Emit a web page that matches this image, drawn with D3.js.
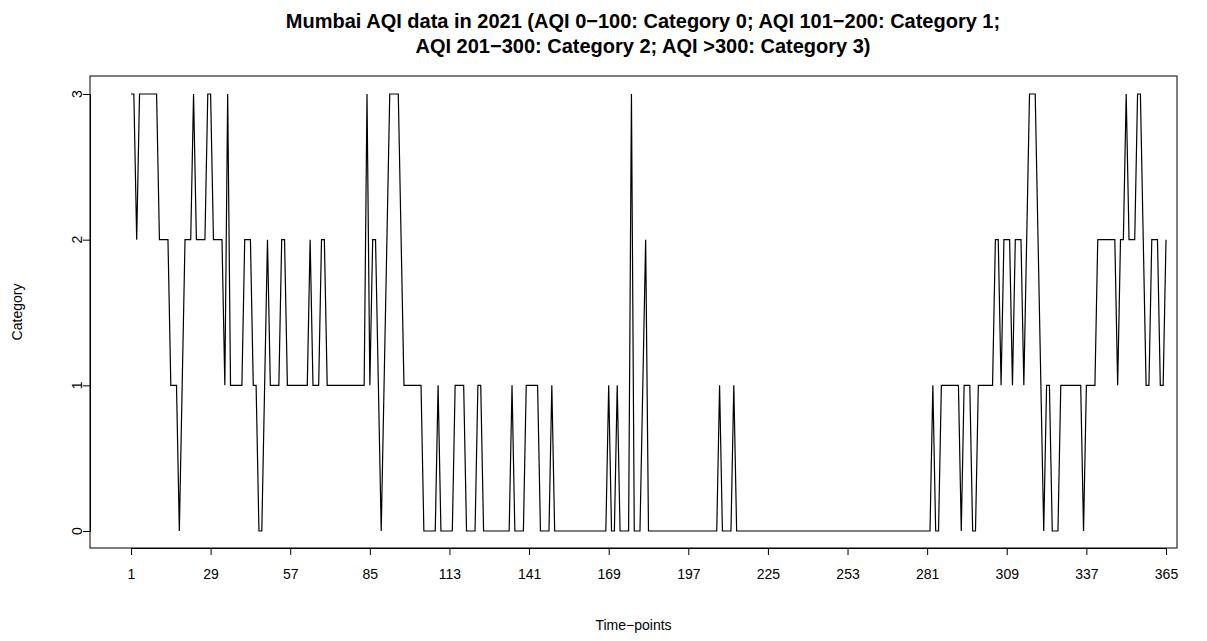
<!DOCTYPE html>
<html>
<head>
<meta charset="utf-8">
<script src="https://cdn.jsdelivr.net/npm/d3@7"></script>
<style>
  body { margin: 0; background: #fff; }
  svg text { font-family: "Liberation Sans", Arial, Helvetica, sans-serif; fill: #000; }
</style>
</head>
<body>
<div class="chart"></div>
<script>
// daily AQI category, day 1 .. 365
let category = [
  3,3,2,3,3,3,3,3,3,3,
  2,2,2,2,1,1,1,0,1,2,
  2,2,3,2,2,2,2,3,3,2,
  2,2,2,1,3,1,1,1,1,1,
  2,2,2,1,1,0,0,1,2,1,
  1,1,1,2,2,1,1,1,1,1,
  1,1,1,2,1,1,1,2,2,1,
  1,1,1,1,1,1,1,1,1,1,
  1,1,1,3,1,2,2,1,0,1,
  2,3,3,3,3,2,1,1,1,1,
  1,1,1,0,0,0,0,0,1,0,
  0,0,0,0,1,1,1,1,0,0,
  0,0,1,1,0,0,0,0,0,0,
  0,0,0,0,1,0,0,0,0,1,
  1,1,1,1,0,0,0,0,1,0,
  0,0,0,0,0,0,0,0,0,0,
  0,0,0,0,0,0,0,0,1,0,
  0,1,0,0,0,0,3,0,0,0,
  1,2,0,0,0,0,0,0,0,0,
  0,0,0,0,0,0,0,0,0,0,
  0,0,0,0,0,0,0,1,0,0,
  0,0,1,0,0,0,0,0,0,0,
  0,0,0,0,0,0,0,0,0,0,
  0,0,0,0,0,0,0,0,0,0,
  0,0,0,0,0,0,0,0,0,0,
  0,0,0,0,0,0,0,0,0,0,
  0,0,0,0,0,0,0,0,0,0,
  0,0,0,0,0,0,0,0,0,0,
  0,0,1,0,0,1,1,1,1,1,
  1,1,0,1,1,1,0,0,1,1,
  1,1,1,1,2,2,1,2,2,2,
  1,2,2,2,1,2,3,3,3,2,
  1,0,1,1,0,0,0,1,1,1,
  1,1,1,1,1,0,1,1,1,1,
  2,2,2,2,2,2,2,1,2,2,
  3,2,2,2,3,3,2,1,1,2,
  2,2,1,1,2
];
let xTicks = [1, 29, 57, 85, 113, 141, 169, 197, 225, 253, 281, 309, 337, 365];
let yTicks = [0, 1, 2, 3];
let titleLines = [
  "Mumbai AQI data in 2021 (AQI 0\u2212100: Category 0; AQI 101\u2212200: Category 1;",
  "AQI 201\u2212300: Category 2; AQI >300: Category 3)"
];

let width = 1207, height = 641;
// plot box (R style frame)
let box = {left: 90, right: 1177, top: 76, bottom: 548};

let svg = d3.select(".chart")
  .append("svg")
    .attr("width", width)
    .attr("height", height);

let x = d3.scaleLinear()
    .domain([1, 365])
    .range([131, 1166]);

let y = d3.scaleLinear()
    .domain([0, 3])
    .range([531, 94]);

// frame
svg.append("rect")
    .attr("x", box.left)
    .attr("y", box.top)
    .attr("width", box.right - box.left)
    .attr("height", box.bottom - box.top)
    .attr("fill", "none")
    .attr("stroke", "#000")
    .attr("stroke-width", 1);

// x axis
let xAxis = svg.append("g")
    .attr("transform", "translate(0," + box.bottom + ")")
    .call(d3.axisBottom(x).tickValues(xTicks).tickSizeOuter(0).tickSize(7).tickPadding(14));
xAxis.selectAll("text").style("font-size", "14px");
xAxis.selectAll("line, path").attr("stroke", "#000");

// y axis, labels rotated like R default
let yAxis = svg.append("g")
    .attr("transform", "translate(" + box.left + ",0)")
    .call(d3.axisLeft(y).tickValues(yTicks).tickSizeOuter(0).tickSize(7).tickFormat(""));
yAxis.selectAll("line, path").attr("stroke", "#000");

svg.selectAll(".ylab")
  .data(yTicks)
  .enter()
  .append("text")
    .attr("class", "ylab")
    .attr("transform", d => `translate(82, ${y(d)}) rotate(-90)`)
    .attr("text-anchor", "middle")
    .style("font-size", "14px")
    .text(d => d);

// the series
svg.append("path")
    .datum(category)
    .attr("fill", "none")
    .attr("stroke", "#000")
    .attr("stroke-width", 1.2)
    .attr("stroke-linejoin", "miter")
    .attr("d", d3.line()
      .x((d, i) => x(i + 1))
      .y(d => y(d)));

// titles
svg.selectAll(".title")
  .data(titleLines)
  .enter()
  .append("text")
    .attr("class", "title")
    .attr("x", 643)
    .attr("y", (d, i) => 28 + i * 25)
    .attr("text-anchor", "middle")
    .style("font-size", "20px")
    .style("font-weight", "bold")
    .text(d => d);

svg.append("text")
    .attr("x", (box.left + box.right) / 2)
    .attr("y", 630)
    .attr("text-anchor", "middle")
    .style("font-size", "14px")
    .text("Time\u2212points");

svg.append("text")
    .attr("transform", `translate(22, ${(box.top + box.bottom) / 2}) rotate(-90)`)
    .attr("text-anchor", "middle")
    .style("font-size", "14px")
    .text("Category");
</script>
</body>
</html>
